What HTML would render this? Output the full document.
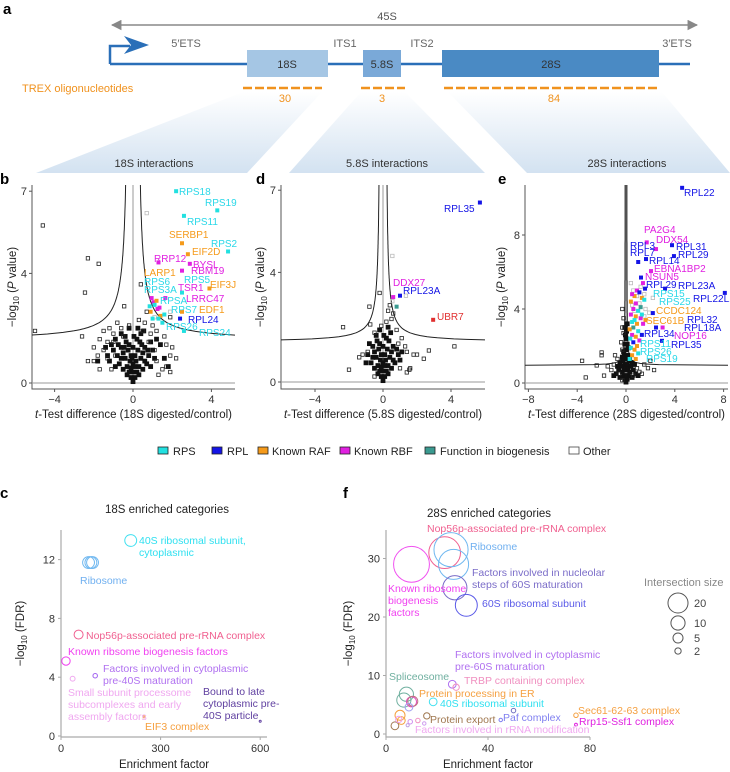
<!DOCTYPE html>
<html><head><meta charset="utf-8">
<style>
html,body{margin:0;padding:0;background:#fff;}
svg{display:block;font-family:"Liberation Sans",sans-serif;}
</style></head>
<body>
<svg id="fig" width="730" height="772" viewBox="0 0 730 772" xmlns="http://www.w3.org/2000/svg">
<defs>
<linearGradient id="fan" x1="0" y1="0" x2="0" y2="1">
<stop offset="0" stop-color="#ffffff"/><stop offset="1" stop-color="#d3e2f1"/>
</linearGradient>
<marker id="ah" viewBox="0 0 10 10" refX="9" refY="5" markerWidth="7" markerHeight="7" orient="auto-start-reverse"><path d="M0,0 L10,5 L0,10 z" fill="#888"/></marker>
</defs>
<!-- Panel a -->
<g>
<text x="3" y="14" font-size="15" font-weight="bold">a</text>
<polygon points="243,92 322,92 247,173 36,173" fill="url(#fan)"/>
<polygon points="361,92 405,92 485,173 289,173" fill="url(#fan)"/>
<polygon points="448,92 662,92 730,173 527,173" fill="url(#fan)"/>
<line x1="112" y1="25" x2="697" y2="25" stroke="#888" stroke-width="1.5" marker-start="url(#ah)" marker-end="url(#ah)"/>
<text x="387" y="20" font-size="11" fill="#555" text-anchor="middle">45S</text>
<polyline points="110,64 110,46 130,46" fill="none" stroke="#2a6fb8" stroke-width="2.5"/>
<polygon points="124,36 149,45 124,54 131,45" fill="#2a6fb8"/>
<line x1="110" y1="64" x2="690" y2="64" stroke="#2a6fb8" stroke-width="2.5"/>
<rect x="247" y="50" width="81" height="27" fill="#a5c6e4"/>
<rect x="363" y="50" width="38" height="27" fill="#7aa9d8"/>
<rect x="442" y="50" width="217" height="27" fill="#4a8ac4"/>
<text x="287" y="68" font-size="11" fill="#333" text-anchor="middle">18S</text>
<text x="382" y="68" font-size="11" fill="#333" text-anchor="middle">5.8S</text>
<text x="551" y="68" font-size="11" fill="#333" text-anchor="middle">28S</text>
<g font-size="11" fill="#666" text-anchor="middle">
<text x="186" y="47">5′ETS</text>
<text x="345" y="47">ITS1</text>
<text x="422" y="47">ITS2</text>
<text x="677" y="47">3′ETS</text>
</g>
<text x="22" y="92" font-size="11" fill="#f0921e">TREX oligonucleotides</text>
<line x1="243" y1="88" x2="322" y2="88" stroke="#f0921e" stroke-width="2.5" stroke-dasharray="9,3"/>
<line x1="361" y1="88" x2="405" y2="88" stroke="#f0921e" stroke-width="2.5" stroke-dasharray="9,3"/>
<line x1="444" y1="88" x2="659" y2="88" stroke="#f0921e" stroke-width="2.5" stroke-dasharray="9,3"/>
<g font-size="11" fill="#f0921e" text-anchor="middle">
<text x="285" y="102">30</text>
<text x="382" y="102">3</text>
<text x="554" y="102">84</text>
</g>
<g font-size="11" fill="#333" text-anchor="middle">
<text x="154" y="167">18S interactions</text>
<text x="387" y="167">5.8S interactions</text>
<text x="627" y="167">28S interactions</text>
</g>
</g>
<g font-size="15" font-weight="bold">
<text x="0" y="184">b</text>
<text x="256" y="184">d</text>
<text x="498" y="184">e</text>
<text x="0" y="498">c</text>
<text x="343" y="498">f</text>
</g>
<g id="plots"></g>
<!-- legend -->
<g font-size="11" fill="#222">
<rect x="158" y="447" width="10" height="7" fill="#22e0e0" stroke="#222" stroke-width="0.8"/><text x="173" y="455">RPS</text>
<rect x="212" y="447" width="10" height="7" fill="#1414e6" stroke="#222" stroke-width="0.8"/><text x="227" y="455">RPL</text>
<rect x="258" y="447" width="10" height="7" fill="#f59a1a" stroke="#222" stroke-width="0.8"/><text x="272" y="455">Known RAF</text>
<rect x="340" y="447" width="10" height="7" fill="#e020e0" stroke="#222" stroke-width="0.8"/><text x="354" y="455">Known RBF</text>
<rect x="425" y="447" width="10" height="7" fill="#3a9a90" stroke="#222" stroke-width="0.8"/><text x="440" y="455">Function in biogenesis</text>
<rect x="569" y="447" width="10" height="7" fill="#fff" stroke="#444" stroke-width="0.8"/><text x="583" y="455">Other</text>
</g>
<!-- b labels -->
<g font-size="10">
<text x="179" y="195" fill="#2ad8e8">RPS18</text>
<text x="205" y="206" fill="#2ad8e8">RPS19</text>
<text x="187" y="225" fill="#2ad8e8">RPS11</text>
<text x="169" y="238" fill="#f59a1a">SERBP1</text>
<text x="211" y="247" fill="#2ad8e8">RPS2</text>
<text x="192" y="255" fill="#f59a1a">EIF2D</text>
<text x="154" y="262" fill="#e020e0">RRP12</text>
<text x="193" y="268" fill="#e020e0">BYSL</text>
<text x="191" y="274" fill="#e020e0">RBM19</text>
<text x="144" y="276" fill="#f59a1a">LARP1</text>
<text x="144" y="285" fill="#2ad8e8">RPS6</text>
<text x="184" y="283" fill="#2ad8e8">RPS5</text>
<text x="210" y="288" fill="#f59a1a">EIF3J</text>
<text x="144" y="293" fill="#2ad8e8">RPS3A</text>
<text x="178" y="291" fill="#e020e0">TSR1</text>
<text x="160" y="304" fill="#2ad8e8">RPSA</text>
<text x="186" y="302" fill="#e020e0">LRRC47</text>
<text x="171" y="313" fill="#2ad8e8">RPS7</text>
<text x="199" y="313" fill="#f59a1a">EDF1</text>
<text x="188" y="323" fill="#1414e6">RPL24</text>
<text x="166" y="330" fill="#2ad8e8">RPS26</text>
<text x="199" y="336" fill="#2ad8e8">RPS24</text>
</g>
<g font-size="10">
<text x="444" y="212" fill="#1414e6">RPL35</text>
<text x="393" y="286" fill="#e020e0">DDX27</text>
<text x="403" y="294" fill="#1414e6">RPL23A</text>
<text x="437" y="320" fill="#e03030">UBR7</text>
</g>
<g font-size="10">
<text x="684" y="196" fill="#1414e6">RPL22</text>
<text x="644" y="233" fill="#e020e0">PA2G4</text>
<text x="656" y="243" fill="#e020e0">DDX54</text>
<text x="630" y="249" fill="#1414e6">RPL3</text>
<text x="676" y="250" fill="#1414e6">RPL31</text>
<text x="630" y="256" fill="#1414e6">RPL7</text>
<text x="678" y="258" fill="#1414e6">RPL29</text>
<text x="649" y="264" fill="#1414e6">RPL14</text>
<text x="654" y="272" fill="#e020e0">EBNA1BP2</text>
<text x="645" y="280" fill="#e020e0">NSUN5</text>
<text x="646" y="288" fill="#1414e6">RPL29</text>
<text x="678" y="289" fill="#1414e6">RPL23A</text>
<text x="653" y="297" fill="#2ad8e8">RPS15</text>
<text x="693" y="302" fill="#1414e6">RPL22L1</text>
<text x="659" y="305" fill="#2ad8e8">RPS25</text>
<text x="656" y="314" fill="#f59a1a">CCDC124</text>
<text x="687" y="323" fill="#1414e6">RPL32</text>
<text x="646" y="324" fill="#f59a1a">SEC61B</text>
<text x="684" y="331" fill="#1414e6">RPL18A</text>
<text x="674" y="339" fill="#e020e0">NOP16</text>
<text x="644" y="337" fill="#1414e6">RPL34</text>
<text x="671" y="348" fill="#1414e6">RPL35</text>
<text x="640" y="347" fill="#2ad8e8">RPS11</text>
<text x="640" y="355" fill="#2ad8e8">RPS26</text>
<text x="646" y="362" fill="#2ad8e8">RPS19</text>
</g>
<!-- c labels -->
<g font-size="10.5">
<text x="167" y="513" font-size="11.5" fill="#222" text-anchor="middle">18S enriched categories</text>
<text x="139" y="544" fill="#30e0f0">40S ribosomal subunit,</text>
<text x="139" y="556" fill="#30e0f0">cytoplasmic</text>
<text x="80" y="584" fill="#70b0f0">Ribosome</text>
<text x="86" y="639" fill="#f06090">Nop56p-associated pre-rRNA complex</text>
<text x="68" y="655" fill="#f040f0">Known ribsome biogenesis factors</text>
<text x="103" y="672" fill="#b070f0">Factors involved in cytoplasmic</text>
<text x="103" y="684" fill="#b070f0">pre-40S maturation</text>
<text x="68" y="696" fill="#f0a8f0">Small subunit processome</text>
<text x="68" y="708" fill="#f0a8f0">subcomplexes and early</text>
<text x="68" y="720" fill="#f0a8f0">assembly factors</text>
<text x="203" y="695" fill="#6040a0">Bound to late</text>
<text x="203" y="707" fill="#6040a0">cytoplasmic pre-</text>
<text x="203" y="719" fill="#6040a0">40S particle</text>
<text x="145" y="730" fill="#f5a040">EIF3 complex</text>
</g>
<g font-size="10.5">
<text x="427" y="517" font-size="11.5" fill="#222">28S enriched categories</text>
<text x="427" y="532" fill="#f06090">Nop56p-associated pre-rRNA complex</text>
<text x="470" y="550" fill="#70b0f0">Ribosome</text>
<text x="472" y="576" fill="#7a6cc8">Factors involved in nucleolar</text>
<text x="472" y="588" fill="#7a6cc8">steps of 60S maturation</text>
<text x="482" y="607" fill="#5a5ae8">60S ribosomal subunit</text>
<text x="388" y="592" fill="#f040f0">Known ribosome</text>
<text x="388" y="604" fill="#f040f0">biogenesis</text>
<text x="388" y="616" fill="#f040f0">factors</text>
<text x="455" y="658" fill="#b070f0">Factors involved in cytoplasmic</text>
<text x="455" y="670" fill="#b070f0">pre-60S maturation</text>
<text x="464" y="684" fill="#f090c0">TRBP containing complex</text>
<text x="389" y="680" fill="#70b0a0">Spliceosome</text>
<text x="419" y="697" fill="#f5a040">Protein processing in ER</text>
<text x="440" y="707" fill="#30e0f0">40S ribosomal subunit</text>
<text x="430" y="723" fill="#a07850">Protein export</text>
<text x="503" y="721" fill="#8080f0">Paf complex</text>
<text x="415" y="733" fill="#f0a8f0">Factors involved in rRNA modification</text>
<text x="578" y="714" fill="#f5a040">Sec61-62-63 complex</text>
<text x="579" y="725" fill="#e020e0">Rrp15-Ssf1 complex</text>
<text x="644" y="586" fill="#888" font-size="11">Intersection size</text>
</g>
</svg>
<script>
// ---------- DATA ----------
const bCatPts=[[2.2,7.0,'rps'],[4.3,6.3,'rps'],[2.6,6.1,'rps'],[2.5,5.1,'raf'],[4.85,4.8,'rps'],[2.8,4.7,'raf'],[1.3,4.4,'rbf'],[2.9,4.35,'rbf'],[2.5,4.1,'rbf'],[3.9,3.45,'raf'],[2.5,3.3,'rps'],[0.95,3.1,'rbf'],[1.05,2.95,'rbf'],[1.65,3.1,'rbf'],[1.35,2.75,'rbf'],[1.25,2.7,'rbf'],[0.9,2.6,'raf'],[1.2,3.0,'raf'],[1.4,2.45,'raf'],[2.5,2.6,'raf'],[1.1,2.85,'rps'],[0.85,2.8,'rps'],[1.6,2.5,'rps'],[1.5,2.2,'rps'],[1.0,2.35,'rps'],[1.3,2.35,'rps'],[2.6,1.9,'rps'],[2.4,2.35,'rpl']];
const bOther=[[-4.6,5.75],[-2.3,4.55],[-1.75,4.35],[-2.45,3.3],[-5.0,1.9],[0.4,3.6],[-0.45,2.8],[1.9,2.4],[1.2,1.9],[0.3,2.3],[-0.2,2.1],[-1.2,2.0],[-1.5,1.9],[-1.7,1.6],[-2.0,1.3],[-2.3,0.8],[-2.0,0.8],[-1.7,0.5],[-1.5,1.2],[-1.0,1.5],[-0.8,2.2],[0.9,1.8],[1.0,2.1],[1.6,1.7],[1.7,1.4],[1.9,1.0],[2.2,0.9],[1.7,0.6],[1.5,0.5],[1.9,0.4],[1.3,0.3],[2.0,1.3],[0.5,1.9],[-0.5,1.7],[-1.3,1.5],[-1.8,1.0],[-2.6,1.7],[-1.1,0.5],[-0.9,1.0],[-1.3,0.9],[1.1,1.2],[1.2,0.8],[0.8,1.5],[-0.6,2.0],[0.6,2.2],[-1.0,1.8],[0.7,2.6]];
const bLight=[[0.7,6.2],[1.9,2.6],[1.1,2.4]];
const bCore=[[0,0.05],[-0.1,0.2],[0.1,0.2],[-0.2,0.4],[0.2,0.4],[0,0.4],[-0.3,0.6],[0.3,0.6],[0,0.7],[-0.15,0.8],[0.15,0.8],[-0.4,0.9],[0.4,0.9],[-0.5,1.1],[0.5,1.1],[-0.25,1.2],[0.25,1.2],[-0.6,1.3],[0.6,1.3],[-0.35,1.5],[0.35,1.5],[-0.8,1.0],[0.8,1.0],[-0.7,0.7],[0.7,0.7],[-0.5,0.5],[0.5,0.5],[-1.0,1.2],[1.0,1.2],[-1.2,0.8],[1.1,0.9],[-0.9,1.6],[0.9,1.5],[-0.6,1.8],[0.55,1.9],[-1.4,1.3],[1.4,1.4],[-1.3,1.0],[1.6,0.9],[-1.8,0.8],[1.8,0.6],[-0.1,1.0],[0.1,1.0],[-0.2,1.4],[0.2,1.6],[-0.4,1.7],[0.4,1.8],[-0.1,0.55],[0.1,0.6],[-0.3,0.3],[0.3,0.3],[-0.6,0.9],[0.6,0.8],[-0.9,0.6],[0.9,0.6],[-0.75,1.4],[0.75,1.2],[0.0,1.3],[-0.05,0.9],[0.05,1.7],[-0.2,2.0],[0.25,2.0],[-1.1,1.4],[1.2,1.6],[-0.45,1.3],[0.45,1.4]];
const dCatPts=[[5.7,6.55,'rpl'],[0.6,3.1,'rbf'],[1.0,3.15,'rpl'],[0.8,2.75,'bio'],[2.95,2.27,'red']];
const dOther=[[-2.35,2.0],[-0.8,2.75],[-0.2,3.25],[-0.75,2.1],[-0.1,2.05],[4.2,1.3],[2.4,0.85],[2.7,1.15],[-2.0,0.45],[-0.9,1.1],[1.6,0.5],[1.55,0.45],[1.4,0.35],[0.6,2.5],[0.4,2.8],[0.9,1.4],[1.8,1.0],[1.4,1.1],[0.5,2.3],[0.3,2.6],[-0.5,1.8],[0.8,1.9],[1.1,1.6],[1.3,1.3],[-1.2,1.0],[-1.4,0.9],[-0.5,0.2],[2.0,1.0],[0.2,2.2],[1.0,0.5]];
const dLight=[[0.55,4.6],[1.35,3.15],[0.55,2.95]];
const dCore=[[0,0.05],[-0.1,0.2],[0.1,0.2],[-0.2,0.4],[0.2,0.4],[0,0.4],[-0.3,0.6],[0.3,0.6],[0,0.7],[-0.15,0.8],[0.15,0.8],[-0.4,0.9],[0.4,0.9],[-0.5,1.1],[0.5,1.1],[-0.25,1.2],[0.25,1.2],[-0.6,1.3],[0.6,1.3],[-0.35,1.5],[0.35,1.5],[-0.7,0.7],[0.7,0.7],[-0.5,0.5],[0.5,0.5],[-0.9,1.0],[0.9,1.0],[-0.8,1.4],[0.8,1.2],[-0.1,1.0],[0.1,1.0],[-0.2,1.4],[0.2,1.6],[-0.4,1.7],[0.45,1.8],[-0.1,0.55],[0.1,0.6],[-0.3,0.3],[0.3,0.3],[-0.6,0.9],[0.6,0.8],[0,1.3],[0.05,1.7],[-0.2,1.9],[0.3,2.0],[1.1,1.1],[-1.0,0.7],[1.0,0.8]];
const eCatPts=[[4.6,10.55,'rpl'],[1.7,7.6,'rbf'],[2.46,7.24,'rbf'],[3.77,7.45,'rpl'],[3.93,6.86,'rpl'],[1.0,6.54,'rpl'],[1.64,6.7,'rpl'],[2.05,6.05,'rbf'],[1.23,5.7,'rpl'],[1.39,5.4,'rbf'],[3.2,5.1,'rpl'],[1.56,5.1,'rpl'],[8.1,4.87,'rpl'],[2.2,3.78,'rpl'],[2.46,3.0,'rpl'],[3.0,3.0,'rbf'],[1.3,2.6,'rpl'],[2.95,2.28,'rpl'],
[0.9,5.0,'rbf'],[1.1,4.9,'rpl'],[0.7,4.7,'raf'],[0.5,4.8,'rbf'],[1.3,4.6,'raf'],[0.4,4.4,'raf'],[0.8,4.3,'rbf'],[1.5,4.5,'rps'],[0.6,4.0,'rbf'],[1.0,3.9,'rps'],[0.4,3.7,'rbf'],[0.8,3.6,'raf'],[1.2,3.5,'rbf'],[1.6,3.4,'raf'],[0.5,3.3,'rps'],[0.9,3.2,'raf'],[1.4,3.2,'rbf'],[0.6,3.0,'bio'],[0.3,2.9,'raf'],[1.0,2.8,'rps'],[0.5,2.6,'rbf'],[0.8,2.5,'raf'],[1.1,2.3,'rbf'],[0.35,2.4,'rps'],[0.6,2.2,'rpl'],[0.9,2.0,'raf'],[0.4,1.9,'rps'],[0.7,1.8,'raf'],[1.0,1.6,'rps'],[0.5,1.5,'raf'],[0.3,1.3,'rps'],[0.8,1.3,'raf'],[1.2,4.1,'bio'],[0.7,3.4,'rps'],[1.3,3.7,'rps']];
const eOther=[[-2.0,1.65],[-3.6,1.2],[-3.3,0.3],[-2.0,1.5],[-1.5,0.9],[-2.4,0.95],[-1.8,0.4],[-1.2,0.7],[1.5,1.0],[1.8,0.8],[1.3,0.5],[2.0,1.2],[-0.3,4.0],[-0.2,3.5],[-0.3,3.0],[-0.2,2.7],[-0.4,2.2],[-0.3,1.8],[-0.9,1.5],[-0.7,1.3],[0.9,0.8],[-1.0,1.0],[1.1,0.6],[-0.6,0.5],[0.6,0.4],[-0.3,0.15],[2.3,0.7]];
const eLight=[[0.6,5.0],[0.9,4.7],[1.5,4.8],[0.5,4.2],[1.1,4.3],[1.6,4.0],[0.7,3.9],[1.9,3.8],[1.2,5.2],[0.4,5.4],[1.5,3.6],[2.2,4.6]];
const eCore=[[0,0.05],[-0.1,0.2],[0.1,0.2],[-0.2,0.4],[0.2,0.4],[0,0.4],[-0.3,0.6],[0.3,0.6],[0,0.7],[-0.15,0.8],[0.15,0.8],[-0.4,0.9],[0.4,0.9],[-0.5,1.1],[0.5,1.1],[-0.25,1.2],[0.25,1.2],[-0.6,0.7],[0.6,0.7],[-0.8,0.5],[0.8,0.5],[-0.1,1.0],[0.1,1.0],[-0.15,1.5],[0.15,1.5],[0,1.8],[-0.1,2.1],[0.1,2.1],[0,2.4],[-0.2,1.7],[0.2,1.9],[-0.05,2.6],[0.05,2.8],[0,1.3],[-0.3,1.4],[0.3,1.4],[-1.0,0.4],[1.0,0.4],[-0.5,0.3],[0.5,0.3],[-0.7,0.9],[0.7,1.0],[-0.1,3.0],[0.1,3.2]];
// enrichment bubbles
const cEnrich=[210,83,90,95,53,15,35,103,600,250];
const cFdr=[13.3,11.8,11.8,11.8,6.9,5.1,3.9,4.1,1.0,1.3];
const cSize=[7,7,7,7,4,3.5,1.2,1,0.15,0.15];
const cColor=['#40e0f0','#70b8f0','#70b8f0','#70b8f0','#f06090','#f040f0','#f0a8f0','#a060f0','#6040a0','#f5a040'];
const fEnrich=[10,23,25.5,26.5,27,31.5,26,27.5,8,7,10,10.5,18.5,5.5,6,16,3.5,9,9.5,12.5,15,8.5,5,45,50,74.5,74.5];
const fFdr=[29,31,31.5,29,25,22,8.5,8,6.8,5.8,5.5,5.6,5.5,3.2,2.3,3.1,1.4,4.6,2.1,2.3,1.8,1.5,2.5,2.4,4,3.2,1.6];
const fSize=[64,50,58,45,29,24,3,2,10,10,5,5,3,5,3,2,3,3,1,1,0.6,0.5,2,0.6,1,1,0.4];
const fColor=['#f050f0','#f06090','#70b8f0','#70b8f0','#7a6cc8','#5a5ae8','#b070f0','#f090c0','#70b0a0','#70b0a0','#e050c0','#c07080','#40e0f0','#f5a040','#f5a040','#a07850','#a07850','#a0a0f0','#d090f0','#f090c0','#d0a0f0','#c0a0e0','#f0a0f0','#8080f0','#7070c0','#f5a040','#e020e0'];
const sizeLegend=[20,10,5,2];
const bXTicks=[-4,0,4], bYTicks=[0,4,7];
const dXTicks=[-4,0,4], dYTicks=[0,4,7];
const eXTicks=[-8,-4,0,4,8], eYTicks=[0,4,8];
const cXTicks=[0,300,600], cYTicks=[0,4,8,12];
const fXTicks=[0,40,80], fYTicks=[0,10,20,30];

// ---------- DRAW ----------
const NS='http://www.w3.org/2000/svg';
const root=document.getElementById('plots');
function mk(tag,parent,attrs){const e=document.createElementNS(NS,tag);for(const k in attrs)e.setAttribute(k,attrs[k]);parent.appendChild(e);return e;}
const CAT={rps:'#22e0e0',rpl:'#1414e6',raf:'#f59a1a',rbf:'#e020e0',bio:'#3a9a90',red:'#e03030'};

function volcano(name,P,catPts,other,light,core,xt,yt,thr,xTitle,yTitleX){
  const X=v=>P.x0+P.sx*v, Y=v=>P.y0-P.sy*v;
  const g=mk('g',root,{});
  
  
  const cid='clip-'+name;
  const cp=mk('clipPath',g,{id:cid});
  mk('rect',cp,{x:P.left,y:P.top,width:P.right-P.left,height:P.bottom-P.top});
  const ax=mk('path',g,{d:`M${P.left},${P.top}V${P.bottom}H${P.right}`,fill:'none',stroke:'#555','stroke-width':1});
  
  
  xt.forEach(t=>{
    const tk=mk('line',g,{x1:X(t),x2:X(t),y1:P.bottom,y2:P.bottom+3,stroke:'#555'});
    
    
    const tl=mk('text',g,{x:X(t),y:P.bottom+14,'font-size':11,'text-anchor':'middle',fill:'#333'});
    tl.textContent=(t<0?'−'+(-t):t);
    
    
  });
  yt.forEach(t=>{
    const tk=mk('line',g,{x1:P.left-3,x2:P.left,y1:Y(t),y2:Y(t),stroke:'#555'});
    
    
    const tl=mk('text',g,{x:P.left-5,y:Y(t)+4,'font-size':11,'text-anchor':'end',fill:'#333'});
    tl.textContent=t;
    
    
  });
  const pg=mk('g',g,{'clip-path':`url(#${cid})`});
  const h0=mk('line',pg,{x1:P.left,x2:P.right,y1:Y(0),y2:Y(0),stroke:'#999','stroke-width':1});
  
  
  const v0=mk('line',pg,{x1:X(0),x2:X(0),y1:P.top,y2:Y(0),stroke:'#999','stroke-width':1});
  
  
  [-1,1].forEach(s=>{
    let d='';const yTopV=(P.y0-P.top)/P.sy+1;const xEnd=s>0?(P.right-P.x0)/P.sx:(P.x0-P.left)/P.sx;
    const yEnd=thr.y0+thr.c/(xEnd-thr.s0);
    for(let i=0;i<=120;i++){const yy=yTopV-(yTopV-yEnd)*Math.pow(i/120,0.35);const xx=thr.s0+thr.c/(yy-thr.y0);d+=(i?'L':'M')+X(s*xx).toFixed(1)+','+Y(yy).toFixed(1);}
    const c=mk('path',pg,{d:d,fill:'none',stroke:'#222','stroke-width':1});
    
    
  });
  const sq=3.4;
  core.forEach(p=>{const r=mk('rect',pg,{x:X(p[0])-2,y:Y(p[1])-2,width:4,height:4,fill:'#111',stroke:'#111','stroke-width':0.8});
    
    });
  other.forEach(p=>{const r=mk('rect',pg,{x:X(p[0])-sq/2,y:Y(p[1])-sq/2,width:sq,height:sq,fill:'none',stroke:'#222','stroke-width':0.8});
    
    });
  light.forEach(p=>{const r=mk('rect',pg,{x:X(p[0])-sq/2,y:Y(p[1])-sq/2,width:sq,height:sq,fill:'none',stroke:'#bbb','stroke-width':0.8});
    
    });
  catPts.forEach(p=>{const r=mk('rect',pg,{x:X(p[0])-2,y:Y(p[1])-2,width:4,height:4,fill:CAT[p[2]]});
    
    });
  const xtl=mk('text',g,{x:(P.left+P.right)/2,y:418,'font-size':11.5,'text-anchor':'middle',fill:'#222',textLength:P.right-P.left-6,lengthAdjust:'spacingAndGlyphs'});
  xtl.innerHTML='<tspan font-style="italic">t</tspan>-Test difference ('+xTitle+' digested/control)';
  
  
  const ytl=mk('text',g,{x:0,y:0,'font-size':11.5,'text-anchor':'middle',fill:'#222',transform:`translate(${yTitleX},${(P.top+P.bottom)/2}) rotate(-90)`});
  ytl.innerHTML='−log<tspan font-size="8" dy="3">10</tspan><tspan dy="-3"> (</tspan><tspan font-style="italic">P</tspan> value)';
  
  
}
volcano('volcano-18s',{x0:133,sx:19.6,y0:383,sy:27.4,left:32,right:235,top:185,bottom:389},bCatPts,bOther,bLight,bCore,bXTicks,bYTicks,{y0:1.55,c:1.0,s0:0.2},'18S',16);
volcano('volcano-5-8s',{x0:383,sx:17,y0:382,sy:27.4,left:281,right:485,top:185,bottom:389},dCatPts,dOther,dLight,dCore,dXTicks,dYTicks,{y0:1.45,c:0.5,s0:0.15},'5.8S',264);
volcano('volcano-28s',{x0:626,sx:12.2,y0:383,sy:18.5,left:525,right:728,top:185,bottom:389},eCatPts,eOther,eLight,eCore,eXTicks,eYTicks,{y0:0.95,c:0.12,s0:0.06},'28S',505);

function bubbles(name,P,ex,fd,sz,col,xt,yt,yTitleX){
  const X=v=>P.x0+P.sx*v, Y=v=>P.y0-P.sy*v, R=n=>Math.max(1,2.24*Math.sqrt(n));
  const g=mk('g',root,{});
  
  
  const ax=mk('path',g,{d:`M${P.left},${P.top}V${P.bottom}H${P.right}`,fill:'none',stroke:'#aaa','stroke-width':1.2});
  
  
  xt.forEach(t=>{
    const tk=mk('line',g,{x1:X(t),x2:X(t),y1:P.bottom,y2:P.bottom+3,stroke:'#aaa'});
    
    
    const tl=mk('text',g,{x:X(t),y:P.bottom+15,'font-size':11,'text-anchor':'middle',fill:'#333'});
    tl.textContent=t;
    
    
  });
  yt.forEach(t=>{
    const tk=mk('line',g,{x1:P.left-3,x2:P.left,y1:Y(t),y2:Y(t),stroke:'#aaa'});
    
    
    const tl=mk('text',g,{x:P.left-6,y:Y(t)+4,'font-size':11,'text-anchor':'end',fill:'#333'});
    tl.textContent=t;
    
    
  });
  ex.forEach((v,i)=>{
    const c=mk('circle',g,{cx:X(v),cy:Y(fd[i]),r:R(sz[i]),fill:'none',stroke:col[i],'stroke-width':1});
    
    
  });
  const xtl=mk('text',g,{x:(P.left+P.right)/2,y:768,'font-size':11.5,'text-anchor':'middle',fill:'#222'});
  xtl.textContent='Enrichment factor';
  
  
  const ytl=mk('text',g,{x:0,y:0,'font-size':11.5,'text-anchor':'middle',fill:'#222',transform:`translate(${yTitleX},${(P.top+P.bottom)/2}) rotate(-90)`});
  ytl.innerHTML='−log<tspan font-size="8" dy="3">10</tspan><tspan dy="-3"> (FDR)</tspan>';
  
  
}
bubbles('bubble-18s',{x0:61,sx:0.332,y0:736,sy:14.7,left:61,right:267,top:530,bottom:737},cEnrich,cFdr,cSize,cColor,cXTicks,cYTicks,24);
bubbles('bubble-28s',{x0:386,sx:2.55,y0:734,sy:5.85,left:386,right:590,top:530,bottom:737},fEnrich,fFdr,fSize,fColor,fXTicks,fYTicks,352);

const lg=mk('g',root,{});


const legY=[603,623,638,651];
sizeLegend.forEach((n,i)=>{
  const c=mk('circle',lg,{cx:678,cy:legY[i],r:Math.max(2.5,2.24*Math.sqrt(n)),fill:'none',stroke:'#555','stroke-width':1});
  
  
  const t=mk('text',lg,{x:694,y:legY[i]+4,'font-size':11,fill:'#444'});
  t.textContent=n;
  
  
});
</script>
</body></html>
